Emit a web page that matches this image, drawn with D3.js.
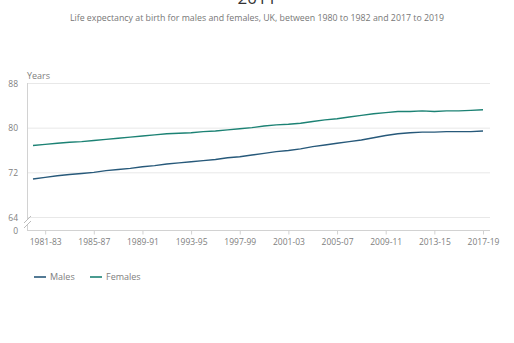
<!DOCTYPE html>
<html>
<head>
<meta charset="utf-8">
<script src="https://cdn.jsdelivr.net/npm/d3@7"></script>
<style>
  html, body { margin: 0; padding: 0; background: #fff; }
  svg { display: block; font-family: "Open Sans", sans-serif; }
</style>
</head>
<body>
<svg id="chart" width="514" height="343"></svg>
<script>
// Three-year periods, 1980-82 to 2017-19
const periods = [
  "1980-82","1981-83","1982-84","1983-85","1984-86","1985-87","1986-88","1987-89",
  "1988-90","1989-91","1990-92","1991-93","1992-94","1993-95","1994-96","1995-97",
  "1996-98","1997-99","1998-00","1999-01","2000-02","2001-03","2002-04","2003-05",
  "2004-06","2005-07","2006-08","2007-09","2008-10","2009-11","2010-12","2011-13",
  "2012-14","2013-15","2014-16","2015-17","2016-18","2017-19"
];
const males = [
  70.8,71.1,71.4,71.6,71.8,72.0,72.3,72.5,72.7,73.0,73.2,73.5,73.7,73.9,74.1,74.3,
  74.6,74.8,75.1,75.4,75.7,75.9,76.2,76.6,76.9,77.2,77.5,77.8,78.2,78.6,78.9,79.1,
  79.2,79.2,79.3,79.3,79.3,79.4
];
const females = [
  76.8,77.0,77.2,77.4,77.5,77.7,77.9,78.1,78.3,78.5,78.7,78.9,79.0,79.1,79.3,79.4,
  79.6,79.8,80.0,80.3,80.5,80.6,80.8,81.1,81.4,81.6,81.9,82.2,82.5,82.7,82.9,82.9,
  83.0,82.9,83.0,83.0,83.1,83.2
];
const yTicks = [0, 64, 72, 80, 88];
const xTickLabels = ["1981-83","1985-87","1989-91","1993-95","1997-99","2001-03",
                     "2005-07","2009-11","2013-15","2017-19"];
const seriesNames = ["Males", "Females"];
const seriesColors = ["#27597a", "#1c8274"];

const svg = d3.select("#chart");
const textGrey = "#808080";

// Title (top line clipped by the frame) and subtitle
svg.append("text").attr("x", 257).attr("y", 4).attr("text-anchor", "middle")
  .attr("font-size", 17).attr("fill", "#333").text("2011");
svg.append("text").attr("x", 257).attr("y", 21).attr("text-anchor", "middle")
  .attr("font-size", 8.8).attr("fill", "#777")
  .text("Life expectancy at birth for males and females, UK, between 1980 to 1982 and 2017 to 2019");

const x = d3.scalePoint().domain(periods).range([33, 483]);
// Broken y axis: 0 sits just below 64
const y = d3.scaleLinear().domain([0, 64, 88]).range([230, 217, 83]);

const left = 27, right = 490;

// Gridlines
svg.append("g").selectAll("line").data(yTicks).join("line")
  .attr("x1", left).attr("x2", right)
  .attr("y1", d => y(d) + 0.5).attr("y2", d => y(d) + 0.5)
  .attr("stroke", d => d === 0 ? "#d2d2d2" : "#e8e8e8").attr("stroke-width", 1);

// Y tick labels
svg.append("g").selectAll("text").data(yTicks).join("text")
  .attr("x", 18).attr("y", d => y(d) + 3.5).attr("text-anchor", "end")
  .attr("font-size", 8.5).attr("fill", textGrey).text(d => d);

svg.append("text").attr("x", 27).attr("y", 79).attr("font-size", 9)
  .attr("fill", textGrey).text("Years");

// Y axis line with break symbol
svg.append("line").attr("x1", left + 0.5).attr("x2", left + 0.5)
  .attr("y1", y(88)).attr("y2", 219).attr("stroke", "#d2d2d2");
svg.append("line").attr("x1", left + 0.5).attr("x2", left + 0.5)
  .attr("y1", 225).attr("y2", y(0)).attr("stroke", "#d2d2d2");
svg.append("path").attr("d", "M24,223 L31,216 M24,228 L31,221")
  .attr("stroke", "#bbb").attr("fill", "none");

// X axis ticks and labels
const xAxis = d3.axisBottom(x).tickValues(xTickLabels).tickSize(4).tickPadding(4);
const gx = svg.append("g").attr("transform", `translate(0,${y(0) + 0.5})`).call(xAxis);
gx.select(".domain").remove();
gx.selectAll(".tick line").attr("stroke", "#d2d2d2");
gx.selectAll(".tick text").attr("font-size", 8.5).attr("fill", textGrey)
  .attr("font-family", "Open Sans, sans-serif");

// Lines
const line = d3.line().x((d, i) => x(periods[i])).y(d => y(d)).curve(d3.curveLinear);
[males, females].forEach((vals, k) => {
  svg.append("path").datum(vals).attr("d", line)
    .attr("fill", "none").attr("stroke", seriesColors[k]).attr("stroke-width", 1.4);
});

// Legend
const legendX = [34, 90];
seriesNames.forEach((name, k) => {
  const g = svg.append("g").attr("transform", `translate(${legendX[k]},277)`);
  g.append("line").attr("x1", 0).attr("x2", 12).attr("stroke", seriesColors[k]).attr("stroke-width", 1.6);
  g.append("text").attr("x", 16).attr("y", 3.2).attr("font-size", 9)
    .attr("fill", textGrey).text(name);
});
</script>
</body>
</html>
